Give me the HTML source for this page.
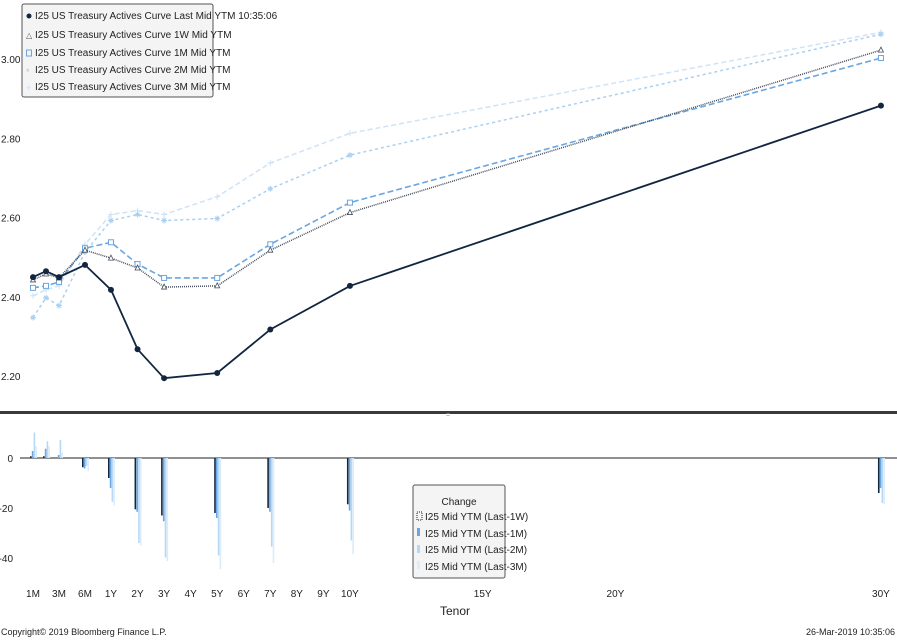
<!DOCTYPE html>
<html><head><meta charset="utf-8"><style>
body{margin:0;background:#fff;}
svg{display:block;font-family:"Liberation Sans",sans-serif;}
text{font-size:10px;fill:#222;}
</style></head><body>
<svg id="c" width="897" height="640">
<g id="main"></g>
<g id="sub"></g>
<rect x="0" y="411" width="897" height="3" fill="#3a3a3a"/>
<text x="448" y="417" text-anchor="middle" style="font-size:7px;fill:#999">=</text>
<g>
<rect x="22" y="4" width="191" height="93" rx="2" fill="#f4f4f4" stroke="#555"/>
<circle cx="29" cy="16" r="2.5" fill="#12263f"/><text x="35" y="19">I25 US Treasury Actives Curve Last Mid YTM 10:35:06</text>
<text x="26" y="38" style="font-size:8px;fill:#555">△</text><text x="35" y="38">I25 US Treasury Actives Curve 1W Mid YTM</text>
<rect x="26.5" y="50" width="5" height="6" fill="none" stroke="#6aa6e0"/><text x="35" y="56">I25 US Treasury Actives Curve 1M Mid YTM</text>
<text x="26" y="75" style="font-size:9px;fill:#9cc8ef">*</text><text x="35" y="73">I25 US Treasury Actives Curve 2M Mid YTM</text>
<text x="26" y="91" style="font-size:9px;fill:#c8e0f6">+</text><text x="35" y="90">I25 US Treasury Actives Curve 3M Mid YTM</text>
</g>
<g>
<rect x="413" y="485" width="92" height="93" rx="2" fill="#f4f4f4" stroke="#555"/>
<text x="459" y="505" text-anchor="middle">Change</text>
<rect x="417" y="512" width="5" height="8" fill="none" stroke="#12263f" stroke-dasharray="1,1"/><text x="425" y="520">I25 Mid YTM (Last-1W)</text>
<rect x="417" y="528" width="3" height="8" fill="#6aa6e0"/><text x="425" y="537">I25 Mid YTM (Last-1M)</text>
<rect x="417" y="545" width="3" height="8" fill="#b5d8f6"/><text x="425" y="553">I25 Mid YTM (Last-2M)</text>
<rect x="417" y="561" width="3" height="8" fill="#dcecfa"/><text x="425" y="570">I25 Mid YTM (Last-3M)</text>
</g>
<text x="455" y="615" text-anchor="middle" style="font-size:12px">Tenor</text>
<text x="1" y="635" style="font-size:9px">Copyright© 2019 Bloomberg Finance L.P.</text>
<text x="895" y="635" text-anchor="end" style="font-size:9px">26-Mar-2019 10:35:06</text>
</svg>
<script>
const tenorsM=[1,2,3,6,12,24,36,60,84,120,360];
const last=[2.452,2.467,2.452,2.483,2.42,2.27,2.197,2.21,2.32,2.43,2.885];
const w1=[2.445,2.46,2.45,2.52,2.50,2.475,2.427,2.43,2.52,2.615,3.025];
const m1=[2.425,2.43,2.44,2.525,2.54,2.485,2.45,2.45,2.535,2.64,3.005];
const m2=[2.35,2.40,2.38,2.515,2.595,2.61,2.595,2.60,2.675,2.76,3.065];
const m3=[2.405,2.42,2.43,2.535,2.61,2.62,2.61,2.655,2.74,2.815,3.07];
const chg1w=[0.7,0.7,0.2,-3.7,-8,-20.5,-23,-22,-20,-18.5,-14];
const chg1m=[2.8,3.7,1.2,-4.2,-12,-21.5,-25.3,-24,-21.5,-21,-12];
const chg2m=[10.2,6.7,7.2,-3.2,-17.5,-34,-39.8,-39,-35.5,-33,-18];
const chg3m=[4.7,4.7,2.2,-5.2,-19,-35,-41.3,-44.5,-42,-38.5,-18.5];
const yTicks=[2.2,2.4,2.6,2.8,3.0];
const cTicks=[-40,-20,0];
const xLabels=["1M","3M","6M","1Y","2Y","3Y","4Y","5Y","6Y","7Y","8Y","9Y","10Y","15Y","20Y","30Y"];
const xLabelM=[1,3,6,12,24,36,48,60,72,84,96,108,120,180,240,360];
function xs(m){if(m<=3)return 33+(m-1)*13;if(m<=6)return 59+(m-3)*26/3;if(m<=12)return 85+(m-6)*26/6;return 111+(m/12-1)*26.55;}
function ys(v){return 60+(3.0-v)/0.2*79.25;}
function yc(v){return 458-v*2.5;}
const NS="http://www.w3.org/2000/svg";
function mk(p,t,a){const e=document.createElementNS(NS,t);for(const k in a)e.setAttribute(k,a[k]);p.appendChild(e);return e;}
const main=document.getElementById('main'),sub=document.getElementById('sub');
yTicks.forEach(v=>{const t=mk(main,'text',{x:1,y:ys(v)+3});t.textContent=v.toFixed(2);

});
cTicks.forEach(v=>{const t=mk(sub,'text',{x:13,y:yc(v)+4,'text-anchor':'end'});t.textContent=v;

});
const zl=mk(sub,'line',{x1:20,x2:897,y1:458,y2:458,stroke:'#222','stroke-width':1});


xLabels.forEach((l,i)=>{const t=mk(sub,'text',{x:xs(xLabelM[i]),y:597,'text-anchor':'middle'});t.textContent=l;

});
const series=[
 {d:m3,c:'#cfe3f7',w:1.5,da:'5,3',n:'curve-3m',mk:'plus'},
 {d:m2,c:'#a9d0f2',w:1.5,da:'3,3',n:'curve-2m',mk:'star'},
 {d:m1,c:'#6aa6e0',w:1.6,da:'6,3',n:'curve-1m',mk:'sq'},
 {d:w1,c:'#444c5c',w:1.5,da:'1,1',n:'curve-1w',mk:'tri'},
 {d:last,c:'#12263f',w:1.8,da:'',n:'curve-last',mk:'dot'}];
series.forEach(s=>{
 const pts=s.d.map((v,i)=>xs(tenorsM[i]).toFixed(1)+','+ys(v).toFixed(1)).join(' ');
 const pl=mk(main,'polyline',{points:pts,fill:'none',stroke:s.c,'stroke-width':s.w,'stroke-dasharray':s.da});
 
 
 s.d.forEach((v,i)=>{const x=xs(tenorsM[i]),y=ys(v);let e;
  if(s.mk=='dot')e=mk(main,'circle',{cx:x,cy:y,r:3,fill:s.c});
  else if(s.mk=='sq')e=mk(main,'rect',{x:x-2.5,y:y-2.5,width:5,height:5,fill:'#fff',stroke:s.c});
  else if(s.mk=='tri')e=mk(main,'path',{d:`M${x},${y-3}L${x+2.5},${y+2}L${x-2.5},${y+2}Z`,fill:'#fff',stroke:s.c,'stroke-width':0.8});
  else e=mk(main,'path',{d:`M${x-3},${y}H${x+3}M${x},${y-3}V${y+3}`+(s.mk=='star'?`M${x-2},${y-2}L${x+2},${y+2}M${x+2},${y-2}L${x-2},${y+2}`:''),stroke:s.c,'stroke-width':1});
  
  });
});
const bars=[{d:chg1w,c:'#12263f',n:'bar-last-1w'},{d:chg1m,c:'#6aa6e0',n:'bar-last-1m'},{d:chg2m,c:'#b5d8f6',n:'bar-last-2m'},{d:chg3m,c:'#dcecfa',n:'bar-last-3m'}];
bars.forEach((b,j)=>b.d.forEach((v,i)=>{const x=xs(tenorsM[i])-3+j*1.8;const y0=yc(0),y1=yc(v);
 const r=mk(sub,'rect',{x:x,y:Math.min(y0,y1),width:1.6,height:Math.abs(y1-y0),fill:b.c});
 
 }));
</script>
</body></html>
